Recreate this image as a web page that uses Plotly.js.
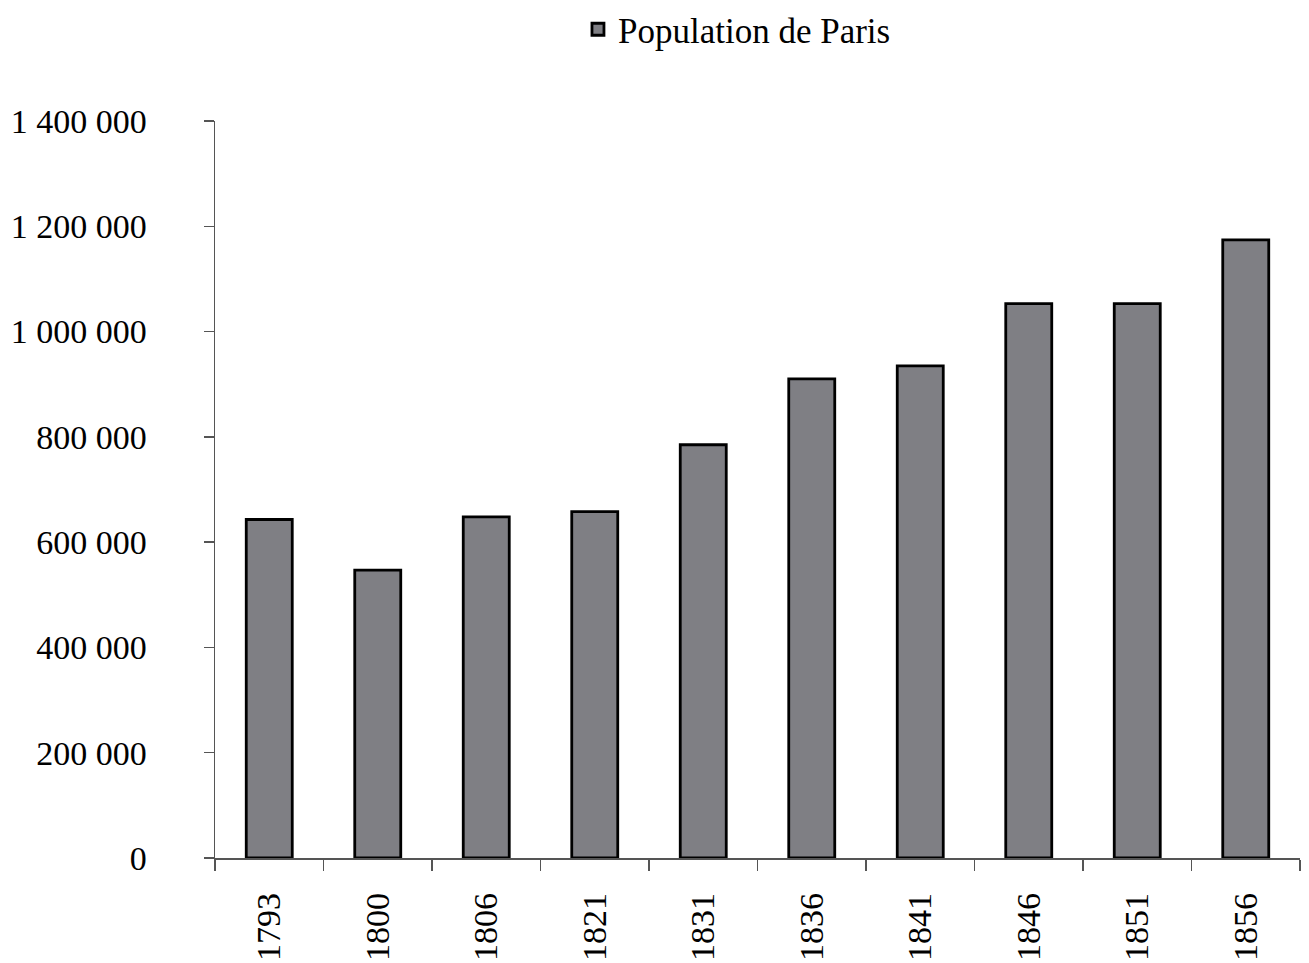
<!DOCTYPE html>
<html>
<head>
<meta charset="utf-8">
<script src="https://cdn.plot.ly/plotly-3.0.1.min.js"></script>
<style>html,body{margin:0;padding:0;background:#fff;}#chart{width:1309px;height:963px;}</style>
</head>
<body>
<div id="chart"></div>
<script>
const years = ["1793","1800","1806","1821","1831","1836","1841","1846","1851","1856"];
const population = [643000, 547000, 648000, 658000, 785000, 910000, 935000, 1053000, 1053000, 1174000];
const seriesName = "Population de Paris";

const font = {family: "Liberation Serif, Times New Roman, serif", size: 34, color: "#000"};

Plotly.newPlot("chart", [{
  type: "bar",
  x: years,
  y: population,
  name: seriesName,
  marker: {color: "#7f7f84", line: {color: "#000", width: 2.8}},
  showlegend: true,
  hoverinfo: "none"
}], {
  width: 1309, height: 963,
  paper_bgcolor: "#fff", plot_bgcolor: "#fff",
  font: font,
  separators: ", ",
  margin: {l: 215, r: 9, t: 121, b: 105},
  bargap: 0.576,
  showlegend: true,
  legend: {
    orientation: "h",
    xref: "container", yref: "container",
    x: 0.563, xanchor: "center",
    y: 1.0, yanchor: "top",
    font: {family: font.family, size: 35, color: "#000"},
    itemwidth: 30
  },
  xaxis: {
    type: "category",
    showline: true, linecolor: "#555", linewidth: 1.5,
    ticks: "outside", ticklen: 11, tickcolor: "#555", tickwidth: 1.5,
    tickson: "boundaries",
    tickangle: -90,
    showgrid: false, zeroline: false,
    tickfont: {family: font.family, size: 34, color: "#000"},
    ticklabelstandoff: 20
  },
  yaxis: {
    range: [0, 1400000],
    dtick: 200000, tick0: 0,
    tickformat: ",.0f",
    showline: true, linecolor: "#555", linewidth: 1.5,
    ticks: "outside", ticklen: 10, tickcolor: "#555", tickwidth: 1.5,
    showgrid: false, zeroline: false,
    tickfont: {family: font.family, size: 34, color: "#000"},
    ticklabelstandoff: 50
  }
}, {displayModeBar: false, staticPlot: true});
</script>
</body>
</html>
